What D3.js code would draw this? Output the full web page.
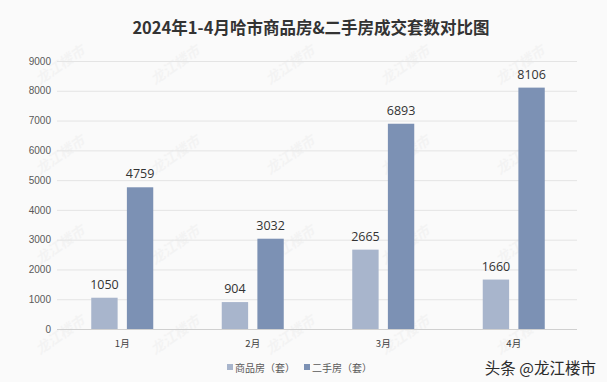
<!DOCTYPE html>
<html>
<head>
<meta charset="utf-8">
<script src="https://cdn.jsdelivr.net/npm/d3@7"></script>
<style>
  body { margin: 0; background: #fafafa; }
  svg { display: block; font-family: "Noto Sans CJK SC", "Noto Sans", sans-serif; }
</style>
</head>
<body>
<div class="chartdiv"></div>
<script>
// data
const months = ['1月', '2月', '3月', '4月']
const seriesNames = ['商品房（套）', '二手房（套）']
const newHomes = [1050, 904, 2665, 1660]
const resale = [4759, 3032, 6893, 8106]
const yTicks = [0, 1000, 2000, 3000, 4000, 5000, 6000, 7000, 8000, 9000]
const colors = ['#a8b5cc', '#7c91b4']

let w = 607, h = 382
let svg = d3.select('.chartdiv').append('svg')
    .attr('width', w)
    .attr('height', h)

svg.append('rect').attr('width', w).attr('height', h).attr('fill', '#fafafa')

// faint diagonal watermark, kept inside the frame
let wm = svg.append('g').attr('class', 'watermark')
for (let r = 0; r < 4; r++) {
    for (let c = 0; c < 5; c++) {
        let x = 40 + c * 115, y = 85 + r * 90
        wm.append('text')
            .attr('transform', `translate(${x},${y}) rotate(-35)`)
            .style('font-size', '14px')
            .style('font-style', 'italic')
            .style('font-weight', 'bold')
            .style('fill', '#000')
            .style('opacity', 0.025)
            .text('龙江楼市')
    }
}

let plotLeft = 57, plotRight = 579, plotTop = 61, plotBottom = 329

let xScale = d3.scaleBand()
    .domain(months)
    .range([plotLeft, plotRight])

let xInner = d3.scaleBand()
    .domain([0, 1])
    .range([xScale.bandwidth() / 2 - 31, xScale.bandwidth() / 2 + 31])
    .paddingInner(0.26)

let yScale = d3.scaleLinear()
    .domain([0, 9000])
    .range([plotBottom, plotTop])

// gridlines
svg.append('g')
    .selectAll('line')
    .data(yTicks)
    .enter()
    .append('line')
    .attr('x1', plotLeft)
    .attr('x2', plotRight - 2)
    .attr('y1', d => yScale(d) + 0.5)
    .attr('y2', d => yScale(d) + 0.5)
    .style('stroke', d => d == 0 ? '#d0d0d0' : '#e4e4e4')
    .style('stroke-width', 1)

// y axis labels
let yAxis = d3.axisLeft(yScale)
    .tickValues(yTicks)
    .tickFormat(d3.format('d'))
    .tickSize(0)
    .tickPadding(0)
let gy = svg.append('g')
    .attr('transform', `translate(${plotLeft - 6},0)`)
    .call(yAxis)
gy.select('.domain').remove()
gy.selectAll('text')
    .style('font-size', '10px')
    .style('fill', '#595959')
    .style('font-family', '"Liberation Sans", "Noto Sans", sans-serif')

// x labels
let xlab = svg.append('g').attr('class', 'xlabels')
months.forEach(m => {
    xlab.append('text')
        .attr('x', xScale(m) + xScale.bandwidth() / 2)
        .attr('y', plotBottom + 18)
        .attr('text-anchor', 'middle')
        .style('font-size', '9.5px')
        .style('font-family', '"Noto Sans CJK SC", sans-serif')
        .style('fill', '#404040')
        .text(m)
})

// bars
let series = [newHomes, resale]
let groups = svg.append('g')
    .selectAll('g')
    .data(months)
    .enter()
    .append('g')
    .attr('transform', d => `translate(${xScale(d)},0)`)

series.forEach((vals, si) => {
    groups.append('rect')
        .attr('x', xInner(si))
        .attr('y', (d, i) => yScale(vals[i]))
        .attr('width', xInner.bandwidth())
        .attr('height', (d, i) => plotBottom - yScale(vals[i]))
        .style('fill', colors[si])
    groups.append('text')
        .attr('x', xInner(si) + xInner.bandwidth() / 2)
        .attr('y', (d, i) => yScale(vals[i]) - 9)
        .attr('text-anchor', 'middle')
        .style('font-size', '12.5px')
        .style('fill', '#333')
        .style('font-family', '"Open Sans", "Noto Sans", sans-serif')
        .text((d, i) => vals[i])
})

// title
svg.append('text')
    .attr('x', 311)
    .attr('y', 34)
    .attr('text-anchor', 'middle')
    .style('font-size', '16.5px')
    .style('font-weight', 'bold')
    .style('fill', '#333')
    .text('2024年1-4月哈市商品房&二手房成交套数对比图')

// legend
let lg = svg.append('g').attr('transform', 'translate(227,368)')
let lx = 0
seriesNames.forEach((name, i) => {
    lg.append('rect')
        .attr('x', lx)
        .attr('y', -4)
        .attr('width', 6)
        .attr('height', 6)
        .style('fill', colors[i])
    let t = lg.append('text')
        .attr('x', lx + 8)
        .attr('y', 3.5)
        .style('font-size', '10px')
        .style('fill', '#595959')
        .text(name)
    lx += 8 + t.node().getComputedTextLength() + 9
})

// source watermark
svg.append('text')
    .attr('x', 596)
    .attr('y', 374)
    .attr('text-anchor', 'end')
    .style('font-size', '15.5px')
    .style('fill', '#2b2b2b')
    .text('头条 @龙江楼市')
</script>
</body>
</html>
